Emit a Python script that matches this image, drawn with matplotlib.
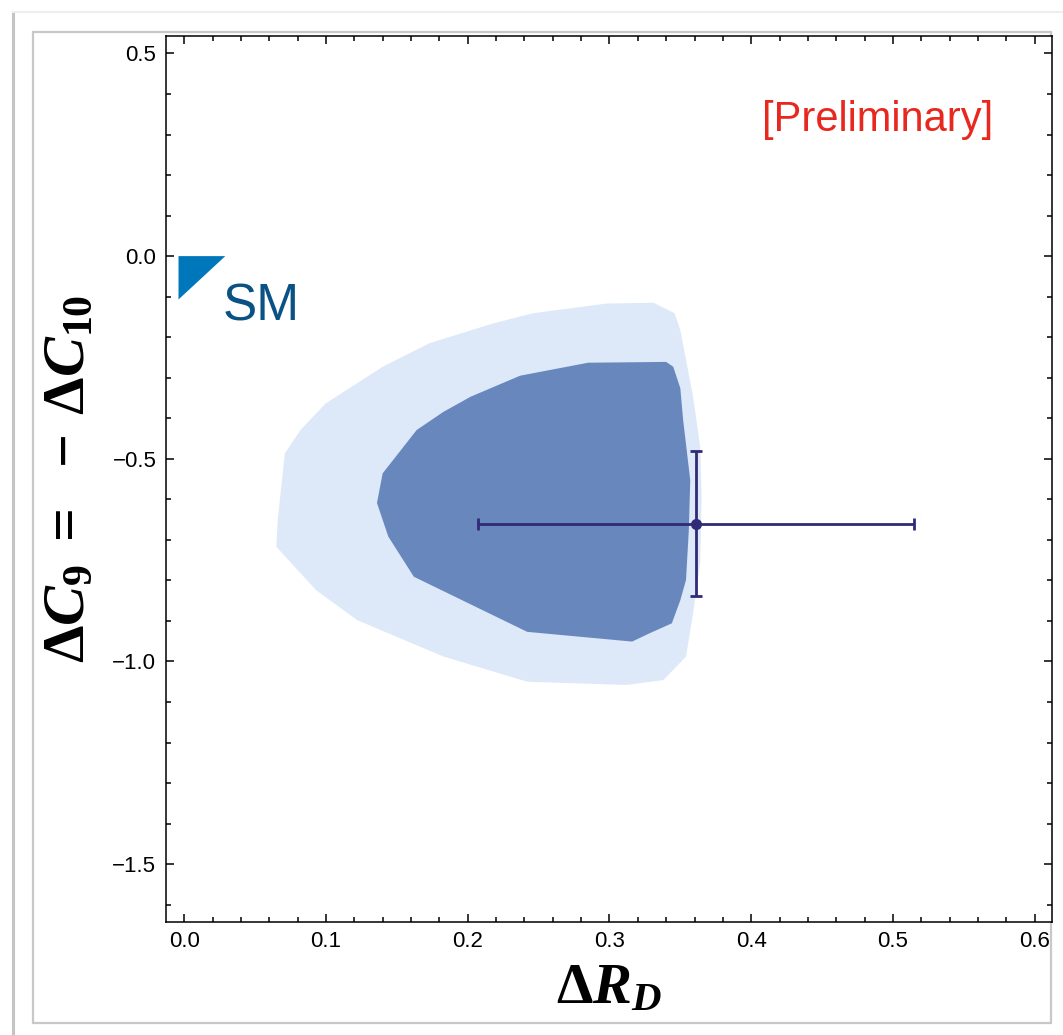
import matplotlib.pyplot as plt
from matplotlib.patches import Polygon, Rectangle
from matplotlib.lines import Line2D
from matplotlib.ticker import MultipleLocator

plt.rcParams['font.family'] = ['Liberation Sans', 'DejaVu Sans']
plt.rcParams['mathtext.fontset'] = 'custom'
plt.rcParams['mathtext.it'] = 'Liberation Serif:italic:bold'
plt.rcParams['mathtext.rm'] = 'Liberation Serif:bold'
plt.rcParams['mathtext.bf'] = 'Liberation Serif:bold'

# 2 sigma allowed region (outline, clockwise from the top)
light_x = [0.246, 0.298, 0.331, 0.346, 0.350, 0.359, 0.364, 0.365, 0.364, 0.359,
           0.354, 0.338, 0.312, 0.242, 0.183, 0.122, 0.093, 0.065, 0.066, 0.071,
           0.082, 0.100, 0.140, 0.173, 0.218]
light_y = [-0.141, -0.117, -0.115, -0.141, -0.183, -0.347, -0.470, -0.594, -0.757, -0.881,
           -0.988, -1.046, -1.058, -1.050, -0.988, -0.898, -0.824, -0.717, -0.651, -0.487,
           -0.429, -0.363, -0.273, -0.215, -0.166]

# 1 sigma allowed region
dark_x = [0.237, 0.285, 0.340, 0.345, 0.350, 0.352, 0.357, 0.356, 0.354, 0.350,
          0.344, 0.328, 0.316, 0.242, 0.162, 0.144, 0.136, 0.140, 0.164, 0.183, 0.202]
dark_y = [-0.295, -0.263, -0.261, -0.273, -0.326, -0.405, -0.553, -0.676, -0.799, -0.849,
          -0.906, -0.931, -0.951, -0.927, -0.791, -0.692, -0.609, -0.536, -0.429, -0.384, -0.347]

# measured point with errors
meas_x, meas_y = 0.361, -0.660
meas_xerr, meas_yerr = 0.154, 0.179

# SM marker (corner wedge at the origin)
sm_x = [-0.004, 0.029, -0.004]
sm_y = [0.0, 0.0, -0.107]

fig = plt.figure(figsize=(10.63, 10.35), dpi=100)

# slide frame behind the plot
fig.add_artist(Line2D([0.0122, 0.0122], [0.0, 0.988], transform=fig.transFigure,
                      color='#c4c4c4', lw=2.2, zorder=0))
fig.add_artist(Line2D([0.0122, 1.0], [0.988, 0.988], transform=fig.transFigure,
                      color='#eeeeee', lw=1.5, zorder=0))
fig.add_artist(Rectangle((0.031, 0.0119), 0.958, 0.957, transform=fig.transFigure,
                         facecolor='white', edgecolor='#c8c8c8', lw=1.6, zorder=0))

ax = fig.add_axes([0.1562, 0.1095, 0.8332, 0.8557])

ax.add_patch(Polygon(list(zip(light_x, light_y)), closed=True,
                     facecolor='#dde9f9', edgecolor='none', zorder=1))
ax.add_patch(Polygon(list(zip(dark_x, dark_y)), closed=True,
                     facecolor='#6888bd', edgecolor='none', zorder=2))
ax.add_patch(Polygon(list(zip(sm_x, sm_y)), closed=True,
                     facecolor='#0077bb', edgecolor='none', zorder=3, clip_on=False))

ax.errorbar(meas_x, meas_y, xerr=meas_xerr, yerr=meas_yerr, fmt='o',
            color='#302a78', ms=7, lw=2, capsize=4.5, capthick=2, zorder=4)

ax.text(0.027, -0.158, 'SM', color='#0a5185', fontsize=37, ha='left', va='baseline')
ax.text(0.489, 0.335, '[Preliminary]', color='#e8281e', fontsize=30,
        ha='center', va='center')

ax.set_xlim(-0.0128, 0.612)
ax.set_ylim(-1.642, 0.543)

ax.xaxis.set_major_locator(MultipleLocator(0.1))
ax.xaxis.set_minor_locator(MultipleLocator(0.02))
ax.yaxis.set_major_locator(MultipleLocator(0.5))
ax.yaxis.set_minor_locator(MultipleLocator(0.1))
ax.xaxis.set_major_formatter(lambda v, p: f'{v:.1f}')
ax.yaxis.set_major_formatter(lambda v, p: f'{v:.1f}'.replace('-', '\u2212'))
ax.tick_params(which='both', direction='in', top=True, right=True, width=1.1,
               labelsize=16, pad=7)
ax.tick_params(which='major', length=6)
ax.tick_params(which='minor', length=3.5)
for s in ax.spines.values():
    s.set_linewidth(1.1)

ax.set_xlabel(r'$\mathbf{\Delta} R_D$', fontsize=42, labelpad=6)
ax.set_ylabel(r'$\mathbf{\Delta} C_9\;=\;\,-\:\mathbf{\Delta} C_{10}$', fontsize=43,
              labelpad=12)

fig.savefig('out.png', dpi=100)
